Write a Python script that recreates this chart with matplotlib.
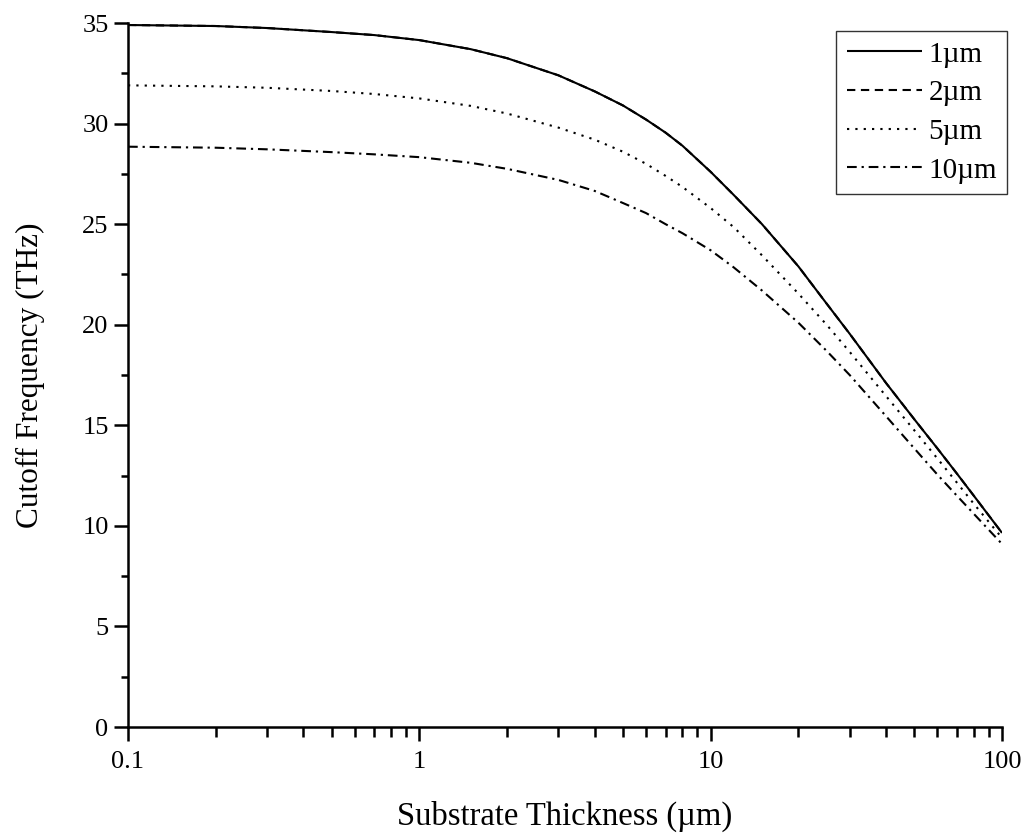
import matplotlib
matplotlib.use("Agg")
import matplotlib.pyplot as plt
from matplotlib.ticker import FixedLocator, LogLocator, MultipleLocator, FuncFormatter

# ---- data ----
thickness = [0.1, 0.2, 0.3, 0.5, 0.7, 1, 1.5, 2, 3, 4, 5, 6, 7, 8, 10, 12, 15, 20, 25, 30, 40, 50, 60, 70, 80, 100]
f_1um = [34.9, 34.85, 34.75, 34.55, 34.4, 34.15, 33.7, 33.25, 32.4, 31.6, 30.9, 30.2, 29.55, 28.9, 27.6, 26.45,
         25.0, 22.9, 21.05, 19.55, 17.1, 15.3, 13.85, 12.6, 11.5, 9.65]
f_2um = [34.9, 34.85, 34.75, 34.55, 34.4, 34.15, 33.7, 33.25, 32.4, 31.6, 30.9, 30.2, 29.55, 28.9, 27.6, 26.45,
         25.0, 22.9, 21.05, 19.55, 17.1, 15.3, 13.85, 12.6, 11.5, 9.65]
f_5um = [31.9, 31.85, 31.78, 31.62, 31.47, 31.25, 30.88, 30.5, 29.8, 29.2, 28.6, 28.0, 27.4, 26.85, 25.8, 24.85,
         23.45, 21.55, 20.0, 18.65, 16.45, 14.75, 13.35, 12.15, 11.1, 9.4]
f_10um = [28.85, 28.8, 28.72, 28.58, 28.47, 28.33, 28.05, 27.75, 27.2, 26.65, 26.05, 25.55, 25.0, 24.55, 23.7, 22.85,
          21.7, 20.1, 18.7, 17.5, 15.45, 13.85, 12.55, 11.5, 10.6, 9.1]
labels = ["1µm", "2µm", "5µm", "10µm"]
x_ticks = [0.1, 1, 10, 100]
x_ticklabels = ["0.1", "1", "10", "100"]
y_ticks = [0, 5, 10, 15, 20, 25, 30, 35]

plt.rcParams['font.family'] = ['Liberation Serif', 'DejaVu Serif']
plt.rcParams['lines.scale_dashes'] = False

fig = plt.figure(figsize=(10.25, 8.35), dpi=100)
ax = fig.add_axes([128/1025, 1-727/835, (1002-128)/1025, (727-23)/835])

lw = 1.5
styles = ['-', (0, (6, 4)), (0, (1.6, 4.4)), (0, (7, 3.5, 1.6, 3.5))]
all_data = [f_1um, f_2um, f_5um, f_10um]
handles = [None]*4
for idx in [1, 0, 2, 3]:
    ln, = ax.plot(thickness, all_data[idx], color='black', lw=lw, linestyle=styles[idx], label=labels[idx],
                  solid_capstyle='butt', dash_capstyle='butt', solid_joinstyle='round')
    handles[idx] = ln

ax.set_xscale('log')
ax.set_xlim(0.1, 100)
ax.set_ylim(0, 35)
ax.xaxis.set_major_locator(FixedLocator(x_ticks))
ax.xaxis.set_major_formatter(FuncFormatter(lambda v, p: x_ticklabels[x_ticks.index(v)] if v in x_ticks else ""))
ax.xaxis.set_minor_locator(LogLocator(base=10, subs=range(2, 10)))
ax.xaxis.set_minor_formatter(FuncFormatter(lambda v, p: ""))
ax.yaxis.set_major_locator(FixedLocator(y_ticks))
ax.yaxis.set_minor_locator(MultipleLocator(2.5))

for s in ['top', 'right']:
    ax.spines[s].set_visible(False)
for s in ['left', 'bottom']:
    ax.spines[s].set_linewidth(1.8)

ax.tick_params(axis='both', which='major', direction='out', length=10, width=1.8, labelsize=19, pad=4)
ax.tick_params(axis='x', which='minor', direction='out', length=7, width=1.8)
ax.tick_params(axis='y', which='minor', direction='out', length=5, width=1.8)
ax.tick_params(axis='x', which='major', pad=7)

ax.set_xlabel("Substrate Thickness (µm)", fontsize=23.5, labelpad=20)
ax.set_ylabel("Cutoff Frequency (THz)", fontsize=22.5, labelpad=27)

leg = ax.legend(handles=handles, labels=labels, loc='upper right',
                bbox_to_anchor=(1007/1025, 1-31/835), bbox_transform=fig.transFigure,
                fontsize=21, frameon=True, fancybox=False, edgecolor='black',
                handlelength=2.6, handletextpad=0.2, labelspacing=0.42,
                borderpad=0.35, borderaxespad=0)
leg.get_frame().set_linewidth(1.0)

fig.savefig("out.png", dpi=100)
